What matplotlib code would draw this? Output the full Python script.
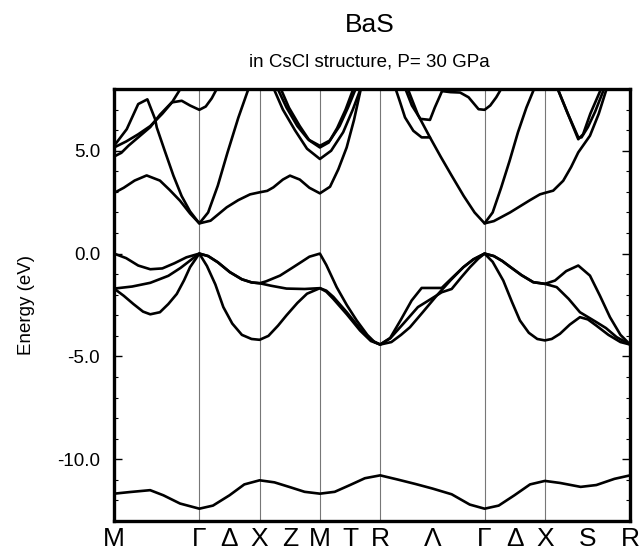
import numpy as np
import matplotlib
matplotlib.use("Agg")
import matplotlib.pyplot as plt

plt.rcParams['font.family'] = ['Liberation Sans', 'DejaVu Sans']
plt.rcParams['axes.unicode_minus'] = False

# high symmetry points along the path (k in 2pi/a units)
k_sym = [0.0, 0.707, 1.207, 1.707, 2.207, 3.073, 3.573, 4.280]
k_labels = ['M', '\u0393', '\u0394', 'X', 'Z', 'M', 'T', 'R', '\u039b', '\u0393', '\u0394', 'X', 'S', 'R']
k_label_pos = [0.0, 0.707, 0.957, 1.207, 1.457, 1.707, 1.957, 2.207, 2.640, 3.073, 3.323, 3.573, 3.927, 4.280]

# S 3s band
band_s = [(0.0, -11.67), (0.133, -11.59), (0.299, -11.50), (0.409, -11.75), (0.547, -12.15),
          (0.707, -12.40), (0.82, -12.25), (0.957, -11.75), (1.08, -11.22), (1.207, -11.02),
          (1.33, -11.12), (1.457, -11.35), (1.58, -11.58), (1.707, -11.67), (1.83, -11.58),
          (1.957, -11.25), (2.08, -10.92), (2.207, -10.78), (2.35, -10.98), (2.5, -11.2),
          (2.64, -11.42), (2.8, -11.7), (2.95, -12.2), (3.073, -12.40), (3.19, -12.25),
          (3.32, -11.75), (3.45, -11.22), (3.573, -11.05), (3.70, -11.15), (3.87, -11.34),
          (4.0, -11.25), (4.15, -10.95), (4.28, -10.78)]

# valence (S 3p)
val_1 = [(0.0, 0.0), (0.1, -0.22), (0.2, -0.58), (0.3, -0.76), (0.4, -0.72), (0.5, -0.47),
         (0.6, -0.18), (0.707, 0.0), (0.78, -0.12), (0.86, -0.42), (0.96, -0.9), (1.06, -1.25),
         (1.14, -1.4), (1.207, -1.44), (1.26, -1.35), (1.376, -1.07), (1.47, -0.72), (1.56, -0.38),
         (1.62, -0.15), (1.707, 0.0), (1.76, -0.55), (1.846, -1.63), (1.93, -2.5), (2.012, -3.25),
         (2.1, -3.95), (2.16, -4.3), (2.207, -4.42), (2.29, -4.1), (2.38, -3.2), (2.468, -2.28),
         (2.551, -1.67), (2.717, -1.67), (2.80, -1.2), (2.897, -0.66), (2.98, -0.28), (3.073, 0.0),
         (3.15, -0.12), (3.22, -0.36), (3.284, -0.64), (3.38, -1.05), (3.477, -1.39), (3.573, -1.47),
         (3.657, -1.31), (3.75, -0.85), (3.85, -0.58), (3.947, -1.07), (4.03, -2.05), (4.113, -3.09),
         (4.2, -3.95), (4.28, -4.42)]
val_2 = [(0.0, -1.7), (0.15, -1.6), (0.3, -1.42), (0.45, -1.08), (0.55, -0.7), (0.65, -0.25),
         (0.707, 0.0), (0.78, -0.12), (0.86, -0.42), (0.96, -0.9), (1.06, -1.25), (1.14, -1.4),
         (1.207, -1.44), (1.3, -1.56), (1.43, -1.70), (1.58, -1.72), (1.707, -1.68), (1.76, -1.85),
         (1.818, -2.2), (1.93, -2.95), (2.04, -3.74), (2.13, -4.25), (2.207, -4.42), (2.29, -4.12),
         (2.40, -3.4), (2.52, -2.6), (2.63, -2.2), (2.717, -1.88), (2.80, -1.72), (2.88, -1.15),
         (2.952, -0.66), (3.02, -0.25), (3.073, 0.0), (3.15, -0.12), (3.22, -0.36), (3.284, -0.64),
         (3.38, -1.05), (3.477, -1.39), (3.573, -1.47), (3.671, -1.63), (3.77, -2.2), (3.864, -2.85),
         (4.0, -3.33), (4.08, -3.62), (4.168, -4.06), (4.28, -4.42)]
val_3 = [(0.0, -1.7), (0.08, -2.05), (0.16, -2.45), (0.24, -2.82), (0.3, -2.95), (0.38, -2.85),
         (0.45, -2.45), (0.52, -1.96), (0.58, -1.3), (0.63, -0.66), (0.707, 0.0), (0.77, -0.6),
         (0.84, -1.5), (0.906, -2.6), (0.98, -3.4), (1.06, -3.95), (1.14, -4.15), (1.207, -4.19),
         (1.28, -4.0), (1.36, -3.5), (1.43, -3.0), (1.52, -2.4), (1.6, -1.95), (1.707, -1.68),
         (1.76, -1.8), (1.818, -2.1), (1.93, -2.85), (2.04, -3.65), (2.13, -4.2), (2.207, -4.42),
         (2.30, -4.3), (2.38, -3.95), (2.454, -3.58), (2.56, -2.85), (2.676, -2.04), (2.79, -1.3),
         (2.897, -0.66), (2.98, -0.28), (3.073, 0.0), (3.14, -0.4), (3.228, -1.31), (3.30, -2.35),
         (3.366, -3.25), (3.44, -3.85), (3.51, -4.15), (3.573, -4.22), (3.63, -4.15), (3.698, -3.9),
         (3.78, -3.45), (3.864, -3.09), (3.93, -3.2), (4.0, -3.5), (4.1, -3.95), (4.2, -4.3),
         (4.28, -4.42)]

# conduction bands
cond_1 = [(0.0, 2.95), (0.08, 3.2), (0.17, 3.55), (0.27, 3.8), (0.38, 3.55), (0.46, 3.1),
          (0.547, 2.57), (0.63, 1.95), (0.707, 1.47), (0.8, 1.6), (0.934, 2.25), (1.03, 2.6),
          (1.128, 2.88), (1.207, 2.98), (1.27, 3.05), (1.321, 3.22), (1.40, 3.6), (1.459, 3.79),
          (1.54, 3.6), (1.62, 3.2), (1.707, 2.93), (1.791, 3.25), (1.86, 4.1), (1.929, 5.16),
          (1.99, 6.5), (2.05, 8.1)]
cond_1b = [(2.43, 8.1), (2.52, 6.75), (2.62, 5.65), (2.71, 4.7), (2.80, 3.79), (2.90, 2.8),
           (2.99, 2.0), (3.073, 1.47), (3.15, 1.58), (3.284, 2.0), (3.367, 2.3), (3.45, 2.6),
           (3.532, 2.88), (3.573, 2.95), (3.642, 3.06), (3.725, 3.54), (3.79, 4.2), (3.85, 4.92),
           (3.947, 5.73), (4.02, 6.8), (4.09, 8.1)]
cond_2 = [(0.0, 5.24), (0.105, 6.05), (0.2, 7.27), (0.276, 7.5), (0.34, 6.54), (0.354, 6.13),
          (0.42, 5.0), (0.492, 3.79), (0.56, 2.8), (0.63, 2.05), (0.707, 1.47), (0.78, 2.0),
          (0.86, 3.3), (0.94, 4.9), (1.03, 6.6), (1.12, 8.1)]
cond_2b = [(3.073, 1.47), (3.14, 2.0), (3.21, 3.2), (3.28, 4.5), (3.35, 5.9), (3.42, 7.1), (3.49, 8.1)]
cond_3 = [(0.0, 5.16), (0.1, 5.45), (0.2, 5.8), (0.3, 6.2), (0.4, 6.8), (0.48, 7.35), (0.56, 8.1)]
cond_4 = [(0.0, 4.72), (0.06, 4.9), (0.12, 5.25), (0.2, 5.65), (0.3, 6.15), (0.38, 6.75),
          (0.478, 7.35), (0.561, 7.43), (0.63, 7.2), (0.707, 6.99), (0.76, 7.15), (0.81, 7.55),
          (0.86, 8.1)]
cond_4b = [(2.72, 7.9), (2.79, 7.85), (2.87, 7.83), (2.94, 7.6), (3.023, 7.02), (3.073, 6.99),
           (3.12, 7.2), (3.17, 7.6), (3.22, 8.1)]
near_m_1 = [(1.35, 8.1), (1.43, 7.1), (1.52, 6.2), (1.61, 5.55), (1.707, 5.24), (1.79, 5.5),
            (1.87, 6.2), (1.94, 7.1), (2.01, 8.1)]
near_m_2 = [(1.376, 8.1), (1.45, 7.1), (1.54, 6.2), (1.62, 5.5), (1.707, 5.16), (1.78, 5.4),
            (1.85, 6.1), (1.92, 7.0), (1.99, 8.1)]
near_m_3 = [(1.318, 8.1), (1.40, 7.0), (1.50, 6.0), (1.60, 5.1), (1.707, 4.6), (1.80, 5.0),
            (1.90, 5.9), (1.98, 7.0), (2.05, 8.1)]
lam_1 = [(2.33, 8.1), (2.37, 7.4), (2.413, 6.62), (2.482, 5.97), (2.551, 5.65), (2.62, 5.65)]
lam_2 = [(2.41, 8.1), (2.47, 7.2), (2.54, 6.55), (2.62, 6.5), (2.66, 7.1), (2.703, 7.67), (2.72, 7.9)]
near_s_1 = [(3.673, 8.1), (3.76, 6.85), (3.85, 5.56), (3.89, 5.8), (3.95, 6.8), (4.046, 8.1)]
near_s_2 = [(3.673, 8.1), (3.76, 6.85), (3.85, 5.65), (3.877, 5.65), (3.93, 6.15), (3.99, 6.9), (4.07, 8.1)]

bands = [band_s, val_1, val_2, val_3, cond_1, cond_1b, cond_2, cond_2b, cond_3, cond_4,
         cond_4b, near_m_1, near_m_2, near_m_3, lam_1, lam_2, near_s_1, near_s_2]

fig = plt.figure(figsize=(6.41, 5.51), dpi=100)
ax = fig.add_axes([0.178, 0.0544, 0.805, 0.784])

for k in k_sym[1:-1]:
    ax.axvline(k, color='#777777', lw=0.8, zorder=1)

for b in bands:
    b = np.array(b)
    ax.plot(b[:, 0], b[:, 1], color='black', lw=1.9, solid_joinstyle='round',
            solid_capstyle='round', zorder=2)

ax.set_xlim(k_sym[0], k_sym[-1])
ax.set_ylim(-13, 8)
ax.set_yticks([-10, -5, 0, 5])
ax.set_yticklabels(['-10.0', '-5.0', '0.0', '5.0'])
ax.set_yticks(np.arange(-12, 8, 1), minor=True)
ax.tick_params(axis='y', which='both', direction='in', left=True, right=True, labelsize=13.5, pad=10)
ax.tick_params(axis='y', which='major', length=6, width=1)
ax.tick_params(axis='y', which='minor', length=3, width=0.8)
ax.set_xticks(k_label_pos)
ax.set_xticklabels(k_labels, fontsize=19)
ax.tick_params(axis='x', length=0, pad=4)
for s in ax.spines.values():
    s.set_linewidth(2.4)

ax.set_ylabel('Energy (eV)', fontsize=13.5, labelpad=16)
fig.text(0.577, 0.955, 'BaS', ha='center', va='center', fontsize=19)
fig.text(0.577, 0.887, 'in CsCl structure, P= 30 GPa', ha='center', va='center', fontsize=13.5)

fig.savefig('out.png', dpi=100)
